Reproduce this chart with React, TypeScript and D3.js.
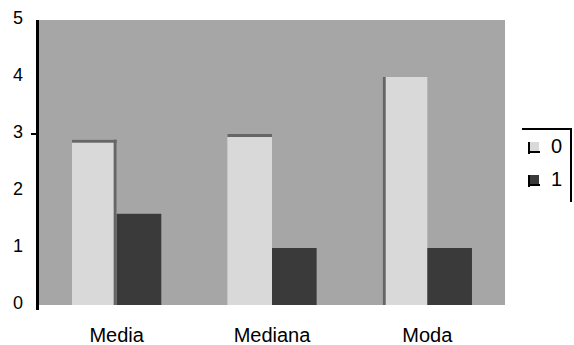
import React from "react";
import * as d3 from "d3";

const categories = ["Media", "Mediana", "Moda"];
const seriesNames = ["0", "1"];
const series0 = [2.9, 3.0, 4.0];
const series1 = [1.6, 1.0, 1.0];
const yTicks = [0, 1, 2, 3, 4, 5];

const W = 574;
const H = 345;
const colors = ["#d9d9d9", "#3a3a3a"];
const shadowSides: string[][] = [["top", "right"], ["top"], ["left"]];

export default function App() {
  const x = d3.scaleBand<string>().domain(categories).range([39, 505]).padding(0);
  const inner = d3
    .scaleBand<string>()
    .domain(seriesNames)
    .range([0, x.bandwidth()])
    .paddingInner(0)
    .paddingOuter(0.74);
  const y = d3.scaleLinear().domain([0, 5]).range([305, 20]);
  const values = [series0, series1];
  const font = "'Liberation Sans', Arial, sans-serif";

  return (
    <svg
      width={W}
      height={H}
      style={{ position: "absolute", left: 0, top: 0, background: "#fff" }}
    >
      <rect x={39} y={y(5)} width={505 - 39} height={y(0) - y(5)} fill="#a6a6a6" />
      {categories.map((c, i) =>
        seriesNames.map((s, si) => {
          const bx = (x(c) ?? 0) + (inner(s) ?? 0);
          const bw = inner.bandwidth();
          const v = values[si][i];
          const top = y(v);
          const h = y(0) - top;
          return (
            <g key={c + s}>
              <rect x={bx} y={top} width={bw} height={h} fill={colors[si]} />
              {si === 0 &&
                shadowSides[i].map((side) =>
                  side === "top" ? (
                    <rect key={side} x={bx} y={top} width={bw} height={3} fill="#666" />
                  ) : side === "right" ? (
                    <rect key={side} x={bx + bw - 3} y={top} width={3} height={h} fill="#666" />
                  ) : (
                    <rect key={side} x={bx} y={top} width={3} height={h} fill="#666" />
                  )
                )}
            </g>
          );
        })
      )}
      <rect x={36} y={y(5)} width={3} height={y(0) - y(5) + 5} fill="#000" />
      <rect x={31} y={y(3) - 1} width={5} height={2} fill="#000" />
      {yTicks.map((t) => (
        <text
          key={t}
          x={23}
          y={y(t) - 2}
          textAnchor="end"
          dominantBaseline="central"
          fontFamily={font}
          fontSize={18}
          fill="#000"
        >
          {t}
        </text>
      ))}
      {categories.map((c) => (
        <text
          key={c}
          x={(x(c) ?? 0) + x.bandwidth() / 2}
          y={342}
          textAnchor="middle"
          fontFamily={font}
          fontSize={20}
          fill="#000"
        >
          {c}
        </text>
      ))}
      <rect x={522} y={128} width={50} height={2} fill="#000" />
      <rect x={570} y={128} width={2} height={74} fill="#000" />
      {seriesNames.map((s, si) => (
        <g key={s}>
          <rect x={528} y={142 + si * 33} width={11} height={10} fill={colors[si]} />
          <rect x={528} y={142 + si * 33} width={2} height={12} fill="#000" />
          <rect x={528} y={151 + si * 33} width={12} height={2} fill="#000" />
          <text
            x={551}
            y={146 + si * 33}
            dominantBaseline="central"
            fontFamily={font}
            fontSize={20}
            fill="#000"
          >
            {s}
          </text>
        </g>
      ))}
    </svg>
  );
}
